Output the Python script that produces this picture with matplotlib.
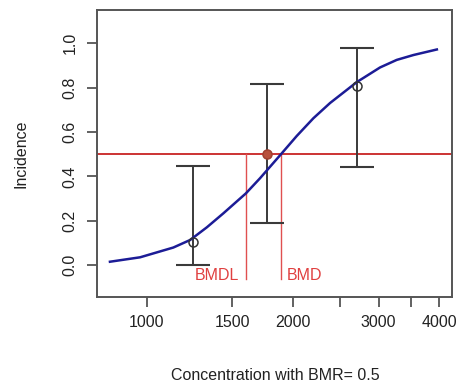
import matplotlib as mpl
mpl.use('Agg')
import matplotlib.pyplot as plt
from matplotlib.ticker import FixedLocator, FixedFormatter, NullLocator

# Observed dose groups and incidence with confidence limits
dose = [1247, 1771, 2705]
incidence = [0.102, 0.500, 0.807]
ci_low = [0.002, 0.188, 0.443]
ci_high = [0.448, 0.816, 0.980]

# Fitted dose-response curve
curve_dose = [840, 969, 1134, 1228, 1329, 1437, 1599, 1711, 1889, 2035, 2202, 2384, 2705, 3020, 3268, 3537, 3952]
curve_resp = [0.015, 0.035, 0.079, 0.113, 0.170, 0.233, 0.323, 0.392, 0.500, 0.582, 0.662, 0.731, 0.825, 0.891, 0.925, 0.947, 0.972]

bmr = 0.5
bmdl = 1599
bmd = 1893

xtick_vals = [1000, 1500, 2000, 2500, 3000, 3500, 4000]
xtick_labels = ['1000', '1500', '2000', '', '3000', '', '4000']
ytick_vals = [0.0, 0.2, 0.4, 0.6, 0.8, 1.0]

plt.rcParams['font.family'] = ['Liberation Sans', 'DejaVu Sans']

fig = plt.figure(figsize=(4.6, 3.89), dpi=100, facecolor='white')
ax = fig.add_axes([97/460, 1-297/389, 355/460, 287/389])

axis_col = '#555555'

# BMR line across the whole panel
ax.axhline(bmr, color='#cc3333', linewidth=1.4, zorder=2)

# BMDL / BMD drop lines and labels
ax.plot([bmdl, bmdl], [bmr, -0.063], color='#e05050', linewidth=1.0, zorder=2)
ax.plot([bmd, bmd], [bmr, -0.063], color='#e05050', linewidth=1.0, zorder=2)
ax.annotate('BMDL', xy=(bmdl, -0.045), xytext=(-4.5, 0), textcoords='offset points',
            ha='right', va='center', color='#e04040', fontsize=11.5)
ax.annotate('BMD', xy=(bmd, -0.045), xytext=(4, 0), textcoords='offset points',
            ha='left', va='center', color='#e04040', fontsize=11.5)

# Fitted curve
ax.plot(curve_dose, curve_resp, color='#1c1c96', linewidth=1.8, zorder=4)

# Error bars
ax.errorbar(dose, incidence, yerr=[[i - l for i, l in zip(incidence, ci_low)],
                                   [h - i for i, h in zip(incidence, ci_high)]],
            fmt='none', ecolor='#3a3a3a', elinewidth=1.4, capsize=12, capthick=1.5, zorder=3)

# Observed points
face = ['none', '#b8503c', 'none']
edge = ['#333333', '#a04030', '#333333']
for d, p, fc, ec in zip(dose, incidence, face, edge):
    ax.plot(d, p, 'o', markersize=6.5, markerfacecolor=fc, markeredgecolor=ec,
            markeredgewidth=1.1, zorder=5)

# Axes scales and ticks
ax.set_xscale('log')
ax.set_xlim(790, 4246)
ax.set_ylim(-0.144, 1.15)
ax.xaxis.set_major_locator(FixedLocator(xtick_vals))
ax.xaxis.set_major_formatter(FixedFormatter(xtick_labels))
ax.xaxis.set_minor_locator(NullLocator())
ax.set_yticks(ytick_vals)
ax.set_yticklabels(['0.0', '0.2', '0.4', '0.6', '0.8', '1.0'], rotation=90, va='center')
ax.tick_params(axis='both', direction='out', length=7, width=1.3, color=axis_col,
               labelsize=11.5, labelcolor='#222222')
ax.tick_params(axis='x', pad=6)
ax.tick_params(axis='y', pad=7)
for s in ax.spines.values():
    s.set_color(axis_col)
    s.set_linewidth(1.4)

# Axis titles
fig.text(275/460, 1-376/389, 'Concentration with BMR= 0.5', ha='center', va='center',
         fontsize=11.5, color='#222222')
fig.text(21.5/460, 1-153.5/389, 'Incidence', ha='center', va='center', rotation=90,
         fontsize=11.5, color='#222222')

plt.savefig('out.png', dpi=100)
plt.close()
